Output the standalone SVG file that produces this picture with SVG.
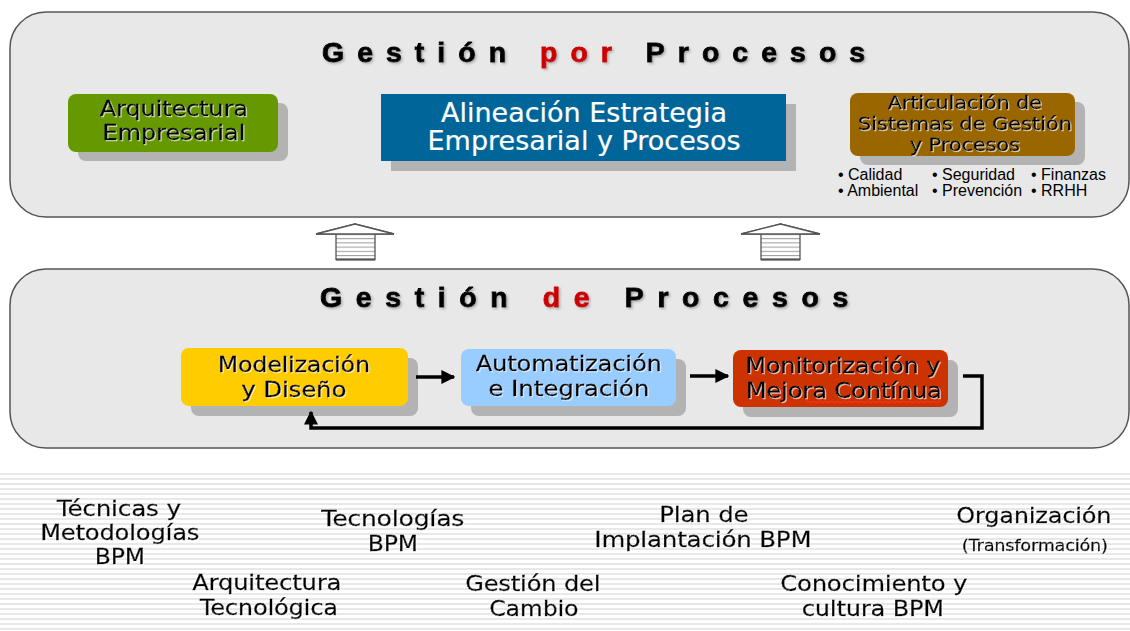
<svg xmlns="http://www.w3.org/2000/svg" width="1130" height="631" viewBox="0 0 1130 631">
<defs>
<pattern id="stripes" x="0" y="473" width="10" height="5" patternUnits="userSpaceOnUse">
<rect x="0" y="0" width="10" height="5" fill="#ffffff"/>
<rect x="0" y="0" width="10" height="2" fill="#e8e8e8"/>
</pattern>
<pattern id="shaft" x="0" y="234" width="10" height="4.2" patternUnits="userSpaceOnUse">
<rect x="0" y="0" width="10" height="4.2" fill="#ffffff"/>
<rect x="0" y="0" width="10" height="1" fill="#9a9a9a"/>
</pattern>
<filter id="glow" x="-10%" y="-30%" width="120%" height="160%">
<feDropShadow dx="1" dy="1" stdDeviation="0.6" flood-color="#ffffff" flood-opacity="0.7"/>
</filter>
<filter id="tshadow" x="-5%" y="-30%" width="110%" height="160%">
<feDropShadow dx="1.5" dy="1.5" stdDeviation="0.8" flood-color="#888888" flood-opacity="0.6"/>
</filter>
<marker id="arr" viewBox="0 0 10 10" refX="9" refY="5" markerWidth="4" markerHeight="4" orient="auto" markerUnits="strokeWidth">
<path d="M0,0 L10,5 L0,10 z" fill="#000000"/>
</marker>
</defs>
<style>
.panel{fill:#e8e8e8;stroke:#555555;stroke-width:1.5}
.shadow{fill:#b3b3b3}
.title{font-family:"Liberation Sans",Arial,sans-serif;font-weight:bold;font-size:28.5px;fill:#000000;stroke:#000000;stroke-width:0.9}
.red{fill:#cc0000;stroke:#cc0000}
.lbl{font-family:"DejaVu Sans",Verdana,sans-serif;fill:#000000;text-anchor:middle;stroke:#000000;stroke-width:0.35;font-size:21px}
.sm{font-size:18.5px}
.wht{fill:#ffffff;stroke:#ffffff;stroke-width:0.2;font-size:27px}
.bul{font-family:"Liberation Sans",Arial,sans-serif;font-size:16px;fill:#000000}
.conn{stroke:#000000;stroke-width:3.5;fill:none}
.up{stroke:#555555;stroke-width:1.3;fill:none}
</style>

<rect x="0" y="473" width="1130" height="158" fill="url(#stripes)"/>

<g id="panel-por">
<rect class="panel" x="10" y="12" width="1119" height="205" rx="36" ry="36"/>
<text class="title" x="322" y="62" letter-spacing="13" filter="url(#tshadow)">Gestión <tspan class="red">por</tspan> Procesos</text>
</g>

<g id="panel-de">
<rect class="panel" x="10" y="269" width="1119" height="179" rx="36" ry="36"/>
<text class="title" x="320" y="307" letter-spacing="13.6" filter="url(#tshadow)">Gestión <tspan class="red">de</tspan> Procesos</text>
</g>

<g id="arquitectura-empresarial">
<rect class="shadow" x="78" y="103" width="210" height="58" rx="8"/>
<rect x="68" y="94" width="210" height="58" rx="8" fill="#669900"/>
<g filter="url(#glow)">
<text class="lbl" x="174" y="116" textLength="148" lengthAdjust="spacingAndGlyphs">Arquitectura</text>
<text class="lbl" x="174" y="140" textLength="143" lengthAdjust="spacingAndGlyphs">Empresarial</text>
</g>
</g>

<g id="alineacion">
<rect class="shadow" x="391" y="104" width="405" height="67"/>
<rect x="381" y="94" width="405" height="67" fill="#006699"/>
<text class="lbl wht" x="584" y="122">Alineación Estrategia</text>
<text class="lbl wht" x="584" y="150">Empresarial y Procesos</text>
</g>

<g id="articulacion">
<rect class="shadow" x="860" y="102" width="225" height="63" rx="8"/>
<rect x="850" y="93" width="225" height="63" rx="8" fill="#996600"/>
<g filter="url(#glow)">
<text class="lbl sm" x="965" y="109" textLength="154" lengthAdjust="spacingAndGlyphs">Articulación de</text>
<text class="lbl sm" x="965" y="130" textLength="214" lengthAdjust="spacingAndGlyphs">Sistemas de Gestión</text>
<text class="lbl sm" x="965" y="151" textLength="110" lengthAdjust="spacingAndGlyphs">y Procesos</text>
</g>
<text class="bul" x="838" y="180">• Calidad</text>
<text class="bul" x="932" y="180">• Seguridad</text>
<text class="bul" x="1031" y="180">• Finanzas</text>
<text class="bul" x="838" y="196">• Ambiental</text>
<text class="bul" x="932" y="196">• Prevención</text>
<text class="bul" x="1031" y="196">• RRHH</text>
</g>

<g id="up-arrow-1">
<rect x="336" y="234" width="39" height="25.5" fill="url(#shaft)"/>
<path class="up" d="M336,259.5 L336,234 L316,234 L355,224 L394,234 L375,234 L375,259.5 Z"/>
<path d="M316,234 L355,224 L394,234 Z" fill="#ffffff" stroke="#555555" stroke-width="1.3"/>
<line x1="336" y1="259.5" x2="375" y2="259.5" stroke="#555555" stroke-width="2"/>
</g>

<g id="up-arrow-2">
<rect x="761" y="234" width="39" height="25.5" fill="url(#shaft)"/>
<path class="up" d="M761,259.5 L761,234 L741,234 L780.5,224 L820,234 L800,234 L800,259.5 Z"/>
<path d="M741,234 L780.5,224 L820,234 Z" fill="#ffffff" stroke="#555555" stroke-width="1.3"/>
<line x1="761" y1="259.5" x2="800" y2="259.5" stroke="#555555" stroke-width="2"/>
</g>

<g id="modelizacion">
<rect class="shadow" x="191" y="358" width="227" height="58" rx="8"/>
<rect x="181" y="348" width="227" height="58" rx="8" fill="#ffcc00"/>
<g filter="url(#glow)">
<text class="lbl" x="294" y="372" textLength="152" lengthAdjust="spacingAndGlyphs">Modelización</text>
<text class="lbl" x="294" y="397" textLength="105" lengthAdjust="spacingAndGlyphs">y Diseño</text>
</g>
</g>

<g id="automatizacion">
<rect class="shadow" x="471" y="359" width="215" height="57" rx="8"/>
<rect x="461" y="349" width="215" height="57" rx="8" fill="#99ccff"/>
<g filter="url(#glow)">
<text class="lbl" x="569" y="371" textLength="186" lengthAdjust="spacingAndGlyphs">Automatización</text>
<text class="lbl" x="569" y="396" textLength="161" lengthAdjust="spacingAndGlyphs">e Integración</text>
</g>
</g>

<g id="monitorizacion">
<rect class="shadow" x="743" y="360" width="215" height="57" rx="8"/>
<rect x="733" y="350" width="215" height="57" rx="8" fill="#cc3300"/>
<g filter="url(#glow)">
<text class="lbl" x="843" y="373" textLength="195" lengthAdjust="spacingAndGlyphs">Monitorización y</text>
<text class="lbl" x="844" y="398" textLength="196" lengthAdjust="spacingAndGlyphs">Mejora Contínua</text>
</g>
<path d="M806,402 q1.5,-1.5 3,0 t3,0 t3,0 t3,0 t3,0 t3,0 t3,0 t3,0 t3,0 t3,0 t3,0 t3,0 t3,0 t3,0 t3,0 t3,0 t3,0 t3,0 t3,0 t3,0 t3,0 t3,0 t3,0 t3,0 t3,0 t3,0 t3,0 t3,0 t3,0 t3,0 t3,0 t3,0 t3,0 t3,0 t3,0 t3,0 t3,0 t3,0 t3,0 t3,0 t3,0 t3,0 t3,0 t3,0 t3,0" fill="none" stroke="#ff3333" stroke-width="1"/>
</g>

<g id="connectors">
<line class="conn" x1="416" y1="377" x2="454" y2="377" marker-end="url(#arr)"/>
<line class="conn" x1="690" y1="376" x2="728" y2="376" marker-end="url(#arr)"/>
<path class="conn" d="M963,376 L982,376 L982,428 L311,428 L311,412" marker-end="url(#arr)"/>
</g>

<g id="bottom-labels" filter="url(#glow)">
<text class="lbl" x="119" y="516" textLength="124" lengthAdjust="spacingAndGlyphs">Técnicas y</text>
<text class="lbl" x="120" y="540" textLength="159" lengthAdjust="spacingAndGlyphs">Metodologías</text>
<text class="lbl" x="120" y="564" textLength="50" lengthAdjust="spacingAndGlyphs">BPM</text>
<text class="lbl" x="393" y="526" textLength="143" lengthAdjust="spacingAndGlyphs">Tecnologías</text>
<text class="lbl" x="393" y="551" textLength="50" lengthAdjust="spacingAndGlyphs">BPM</text>
<text class="lbl" x="267" y="590" textLength="149" lengthAdjust="spacingAndGlyphs">Arquitectura</text>
<text class="lbl" x="269" y="615" textLength="138" lengthAdjust="spacingAndGlyphs">Tecnológica</text>
<text class="lbl" x="533" y="591" textLength="135" lengthAdjust="spacingAndGlyphs">Gestión del</text>
<text class="lbl" x="534" y="616" textLength="89" lengthAdjust="spacingAndGlyphs">Cambio</text>
<text class="lbl" x="704" y="522" textLength="89" lengthAdjust="spacingAndGlyphs">Plan de</text>
<text class="lbl" x="703" y="547" textLength="217" lengthAdjust="spacingAndGlyphs">Implantación BPM</text>
<text class="lbl" x="1034" y="523" textLength="155" lengthAdjust="spacingAndGlyphs">Organización</text>
<text class="lbl" x="1035" y="551" style="font-size:16px" textLength="146" lengthAdjust="spacingAndGlyphs">(Transformación)</text>
<text class="lbl" x="874" y="591" textLength="187" lengthAdjust="spacingAndGlyphs">Conocimiento y</text>
<text class="lbl" x="873" y="616" textLength="142" lengthAdjust="spacingAndGlyphs">cultura BPM</text>
</g>
</svg>
